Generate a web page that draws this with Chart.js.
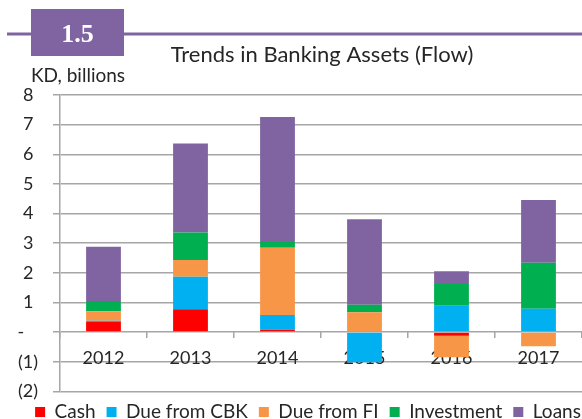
<!DOCTYPE html>
<html><head><meta charset="utf-8">
<script src="https://cdn.jsdelivr.net/npm/chart.js@4.4.0/dist/chart.umd.min.js"></script>
<style>html,body{margin:0;padding:0;background:#fff;overflow:hidden}#wrap{position:relative;width:582px;height:419px}</style>
</head><body><div id="wrap"><canvas id="c" width="582" height="419"></canvas></div>
<script>
const categories = ['2012', '2013', '2014', '2015', '2016', '2017'];
const cash       = [0.36, 0.77, 0.08, 0.00, -0.12, 0.00];
const dueCBK     = [0.02, 1.10, 0.50, -1.02, 0.89, 0.79];
const dueFI      = [0.32, 0.56, 2.27, 0.67, -0.73, -0.48];
const investment = [0.35, 0.93, 0.19, 0.25, 0.73, 1.55];
const loans      = [1.83, 3.00, 4.22, 2.89, 0.43, 2.12];
const seriesNames = ['Cash', 'Due from CBK', 'Due from FI', 'Investment', 'Loans'];
const yMin = -2, yMax = 8, yStep = 1;
const chartTitle = 'Trends in Banking Assets (Flow)';
const unitLabel = 'KD, billions';
const chartNumber = '1.5';

const colors = ['#FF0000', '#00B0F0', '#F79646', '#00B050', '#8064A2'];
const seriesData = [cash, dueCBK, dueFI, investment, loans];
const FONT = 'Lato';
const TXT = '#262626';
const GRID = '#a6a6a6';

function fmt(v) {
  if (v < 0) return '(' + (-v) + ')';
  if (v === 0) return '-   ';
  return v + ' ';
}

const headerPlugin = {
  id: 'header',
  afterLayout(chart) {
    if (chart.legend) { chart.legend.left += 17; chart.legend.right += 17; }
  },
  beforeDraw(chart) {
    const ctx = chart.ctx;
    ctx.save();
    ctx.fillStyle = '#8064A2';
    ctx.fillRect(7, 32.5, 575, 3);
    ctx.fillRect(31, 9, 93, 47);
    ctx.fillStyle = '#ffffff';
    ctx.font = 'bold 26px "Liberation Serif"';
    ctx.textAlign = 'center';
    ctx.textBaseline = 'alphabetic';
    ctx.fillText(chartNumber, 77.5, 42);
    ctx.fillStyle = TXT;
    ctx.font = '22px ' + FONT;
    ctx.fillText(chartTitle, 322, 62);
    ctx.textAlign = 'left';
    ctx.font = '19px ' + FONT;
    ctx.fillText(unitLabel, 31, 82);
    ctx.restore();
  }
};

new Chart(document.getElementById('c'), {
  type: 'bar',
  data: {
    labels: categories,
    datasets: seriesData.map((d, i) => ({
      label: seriesNames[i],
      data: d,
      backgroundColor: colors[i],
      borderWidth: 0,
      categoryPercentage: 1,
      barPercentage: 0.4
    }))
  },
  options: {
    responsive: false,
    animation: false,
    layout: { padding: { top: 95, left: 0, right: 0, bottom: -12.4 } },
    plugins: {
      legend: {
        position: 'bottom',
        labels: { boxWidth: 10, boxHeight: 10, padding: 11, color: TXT, font: { family: FONT, size: 19 } }
      },
      title: { display: false },
      tooltip: { enabled: false }
    },
    scales: {
      x: {
        stacked: true,
        position: { y: 0 },
        z: 1,
        grid: { display: true, drawOnChartArea: false, drawTicks: true, tickLength: 6, color: GRID, lineWidth: 1.5 },
        border: { display: false },
        ticks: { padding: 9, color: TXT, font: { family: FONT, size: 18 } }
      },
      y: {
        stacked: true,
        min: yMin, max: yMax,
        ticks: { stepSize: yStep, autoSkip: false, padding: 15, color: TXT, font: { family: FONT, size: 18 }, callback: (v) => fmt(v) },
        grid: { color: GRID, lineWidth: 1.5, tickLength: 7 },
        border: { color: GRID, width: 1.5 },
        afterFit(s) { s.width = 60; }
      }
    }
  },
  plugins: [headerPlugin]
});
</script></body></html>
